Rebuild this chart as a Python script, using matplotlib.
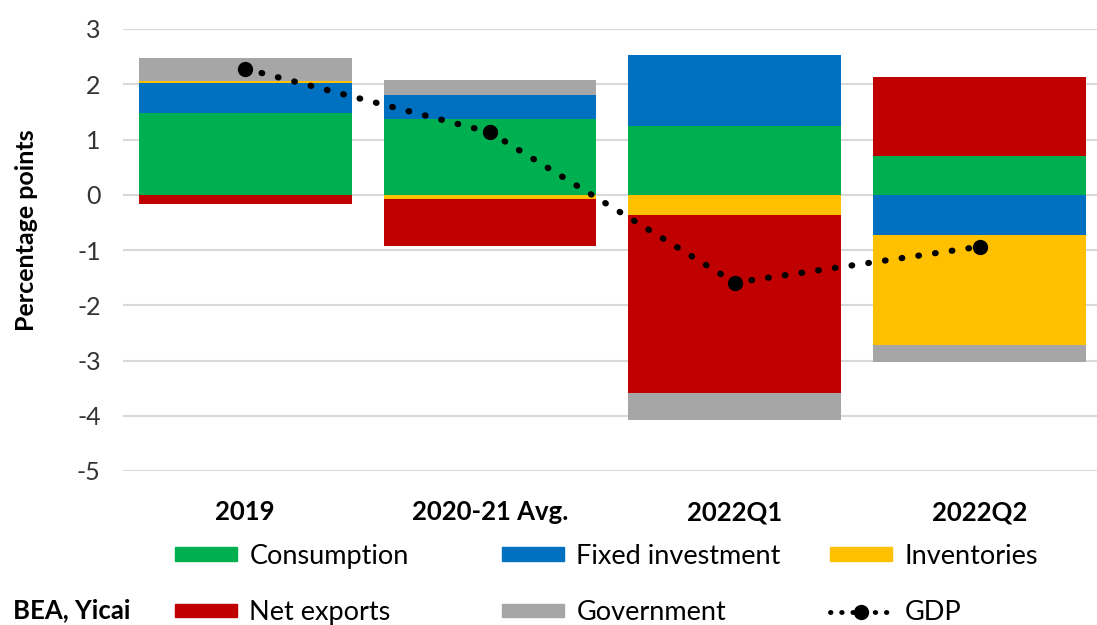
import numpy as np
import matplotlib.pyplot as plt
from matplotlib.patches import Patch
from matplotlib.lines import Line2D

plt.rcParams['font.family'] = ['Lato', 'DejaVu Sans']
plt.rcParams['axes.unicode_minus'] = False

# Data (percentage points)
periods = ["2019", "2020-21 Avg.", "2022Q1", "2022Q2"]
consumption = [1.48, 1.37, 1.25, 0.70]
fixed_investment = [0.54, 0.44, 1.28, -0.72]
inventories = [0.04, -0.08, -0.36, -2.00]
net_exports = [-0.17, -0.84, -3.22, 1.43]
government = [0.42, 0.27, -0.50, -0.31]
gdp = [2.28, 1.13, -1.59, -0.94]

series = [
    ("Consumption", consumption, "#00B050"),
    ("Fixed investment", fixed_investment, "#0070C0"),
    ("Inventories", inventories, "#FFC000"),
    ("Net exports", net_exports, "#C00000"),
    ("Government", government, "#A6A6A6"),
]

fig = plt.figure(figsize=(10.97, 6.25), dpi=100)
ax = fig.add_axes([0.112, 0.2464, 0.8925, 0.7072])

x = np.arange(len(periods))
pos_bottom = np.zeros(len(periods))
neg_bottom = np.zeros(len(periods))
for name, vals, color in series:
    vals = np.array(vals)
    bottom = np.where(vals >= 0, pos_bottom, neg_bottom)
    ax.bar(x, vals, width=0.87, bottom=bottom, color=color, zorder=2)
    pos_bottom += np.where(vals >= 0, vals, 0)
    neg_bottom += np.where(vals < 0, vals, 0)

ax.plot(x, gdp, color="black", linestyle=(0, (0.1, 2.6)), linewidth=4.5,
        dash_capstyle="round", marker="o", markersize=10, zorder=3)

ax.set_xlim(-0.5, 3.5)
ax.set_ylim(-5, 3)
ax.set_yticks(range(-5, 4))
ax.set_xticks(x)
ax.set_xticklabels(periods, fontweight="bold", fontsize=18.5)
ax.tick_params(axis="y", length=0, pad=16, labelsize=18, colors="#333333")
ax.tick_params(axis="x", length=0, pad=21, colors="black")
ax.grid(axis="y", color="#d9d9d9", linewidth=1.5, zorder=0)
for s in ax.spines.values():
    s.set_visible(False)

fig.text(27 / 1097, 1 - 230 / 625, "Percentage points", rotation=90,
         ha="center", va="center", fontsize=18, fontweight="bold")
fig.text(13 / 1097, 1 - 610 / 625, "BEA, Yicai", ha="left", va="center",
         fontsize=18.5, fontweight="bold")

# legend: three columns, two rows
handles = {name: Patch(color=color) for name, _, color in series}
handles["GDP"] = Line2D([], [], color="black", linestyle=(0, (0.1, 2.2)),
                        linewidth=3.5, dash_capstyle="round", marker="o",
                        markersize=10)
columns = [("Consumption", "Net exports", 175),
           ("Fixed investment", "Government", 502),
           ("Inventories", "GDP", 830)]
for top, bottom, px in columns:
    fig.legend([handles[top], handles[bottom]], [top, bottom],
               loc="upper left", bbox_to_anchor=(px / 1097, 1 - 544 / 625),
               frameon=False, fontsize=19.5, handlelength=2.3,
               handleheight=0.4, handletextpad=0.45, labelspacing=1.15,
               borderpad=0, borderaxespad=0)

fig.savefig("out.png", dpi=100)
